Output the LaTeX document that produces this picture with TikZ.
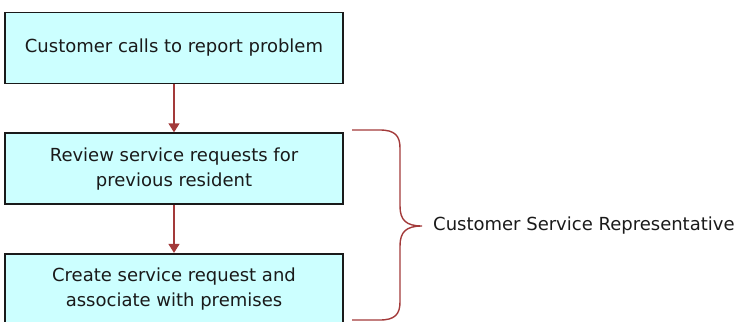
\documentclass[tikz,border=0pt]{standalone}
\usepackage{fontspec}
\setsansfont{DejaVu Sans}
\usepackage{xcolor}
\definecolor{cyanfill}{HTML}{CCFFFF}
\definecolor{brick}{HTML}{A33A3A}
\definecolor{ink}{HTML}{1A1A1A}
\usepackage{tikz}
\usetikzlibrary{arrows.meta,positioning}
\tikzset{
  font=\sffamily\fontsize{18}{25}\selectfont,
  task/.style={draw=ink,line width=1.6pt,fill=cyanfill,text=ink,align=center,
               minimum width=338pt,minimum height=71pt,inner sep=0pt},
  flow/.style={-{Triangle[length=9pt,width=11pt]},line width=1.4pt,draw=brick},
  brace/.style={draw=brick,line width=1.4pt},
  role/.style={text=ink,anchor=west,inner sep=0pt},
}
\begin{document}
\begin{tikzpicture}[x=1pt,y=-1pt]
  \useasboundingbox (0,0) rectangle (743,321);
  % ---- steps ----
  \node[task] (call) at (174,48) {Customer calls to report problem};
  \node[task,below=48pt of call] (review) {Review service requests for\\previous resident};
  \node[task,below=48pt of review] (create) {Create service request and\\associate with premises};
  \draw[flow] (call) -- (review);
  \draw[flow] (review) -- (create);

  % ---- role brace ----
  \node[role] (csr) at (433,226) {Customer Service Representative};
  \coordinate (top) at (352,130);
  \coordinate (bot) at (352,320);
  \coordinate (tip) at ([xshift=-11pt]csr.west);
  \draw[brace] (top) -- (380,130) .. controls (395,130) and (400,136) .. (400,148)
    -- (400,206) .. controls (400,220) and (406,226) .. (tip)
    .. controls (406,226) and (400,232) .. (400,246)
    -- (400,302) .. controls (400,314) and (395,320) .. (380,320) -- (bot);
\end{tikzpicture}
\end{document}
